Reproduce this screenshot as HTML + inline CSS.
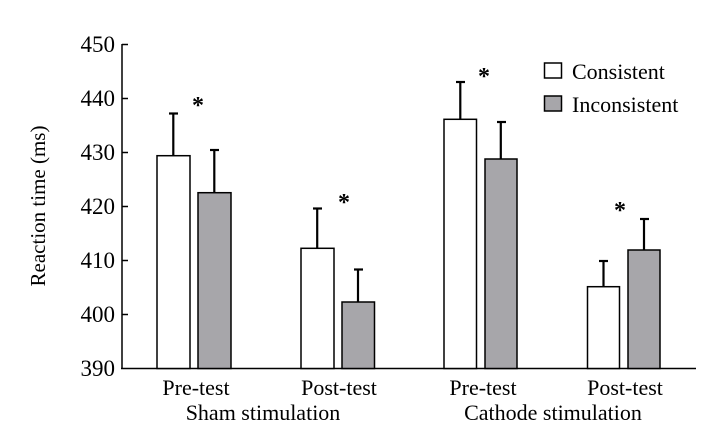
<!DOCTYPE html>
<html><head><style>body{margin:0;background:#fff}</style></head><body>
<svg width="704" height="443" xmlns="http://www.w3.org/2000/svg" font-family="Liberation Serif, serif" fill="#000">
<rect width="704" height="443" fill="#fff"/>
<g stroke="#000" stroke-width="1.5">
<line x1="122" y1="44" x2="122" y2="369"/>
<line x1="121" y1="368.5" x2="696" y2="368.5"/>
<line x1="122" y1="44.5" x2="128" y2="44.5"/>
<line x1="122" y1="98.5" x2="128" y2="98.5"/>
<line x1="122" y1="152.5" x2="128" y2="152.5"/>
<line x1="122" y1="206.5" x2="128" y2="206.5"/>
<line x1="122" y1="260.5" x2="128" y2="260.5"/>
<line x1="122" y1="314.5" x2="128" y2="314.5"/>
</g>
<g font-size="23" text-anchor="end">
<text x="115" y="52">450</text><text x="115" y="106">440</text><text x="115" y="160">430</text>
<text x="115" y="214">420</text><text x="115" y="268">410</text><text x="115" y="322">400</text><text x="115" y="376">390</text>
</g>
<text transform="translate(45,206) rotate(-90)" font-size="21" text-anchor="middle">Reaction time (ms)</text>
<g stroke="#000" stroke-width="2.2">
<line x1="173.3" y1="156" x2="173.3" y2="113.5"/><line x1="169" y1="113.5" x2="178" y2="113.5"/>
<line x1="214.3" y1="193" x2="214.3" y2="150"/><line x1="210" y1="150" x2="219" y2="150"/>
<line x1="317.2" y1="248" x2="317.2" y2="208.5"/><line x1="313" y1="208.5" x2="322" y2="208.5"/>
<line x1="358" y1="302" x2="358" y2="269.5"/><line x1="354" y1="269.5" x2="363" y2="269.5"/>
<line x1="460.3" y1="119.5" x2="460.3" y2="82"/><line x1="456" y1="82" x2="465" y2="82"/>
<line x1="500.8" y1="159" x2="500.8" y2="122"/><line x1="497" y1="122" x2="506" y2="122"/>
<line x1="603.5" y1="287" x2="603.5" y2="261"/><line x1="599" y1="261" x2="608" y2="261"/>
<line x1="644" y1="250" x2="644" y2="219"/><line x1="640" y1="219" x2="649" y2="219"/>
</g>
<g stroke="#000" stroke-width="1.5">
<rect x="157" y="155.7" width="33" height="212.8" fill="#fff"/>
<rect x="198" y="192.7" width="33" height="175.8" fill="#a7a6aa"/>
<rect x="301" y="248.3" width="33" height="120.2" fill="#fff"/>
<rect x="342" y="302" width="32.5" height="66.5" fill="#a7a6aa"/>
<rect x="444" y="119.3" width="32.5" height="249.2" fill="#fff"/>
<rect x="485" y="159" width="32" height="209.5" fill="#a7a6aa"/>
<rect x="587.5" y="286.7" width="32" height="81.8" fill="#fff"/>
<rect x="628" y="250" width="32" height="118.5" fill="#a7a6aa"/>
<rect x="544.5" y="63" width="17" height="15" fill="#fff"/>
<rect x="544.5" y="96" width="17" height="15" fill="#a7a6aa"/>
</g>
<g font-size="24" font-weight="bold" text-anchor="middle">
<text x="198" y="113">*</text><text x="344" y="210">*</text><text x="484" y="84">*</text><text x="620" y="218">*</text>
</g>
<g font-size="22">
<text x="572" y="79">Consistent</text><text x="572" y="112">Inconsistent</text>
</g>
<g font-size="22" text-anchor="middle">
<text x="196" y="395">Pre-test</text><text x="339" y="395">Post-test</text>
<text x="483" y="395">Pre-test</text><text x="625" y="395">Post-test</text>
<text x="263" y="420">Sham stimulation</text><text x="553" y="420">Cathode stimulation</text>
</g>
</svg>
</body></html>
